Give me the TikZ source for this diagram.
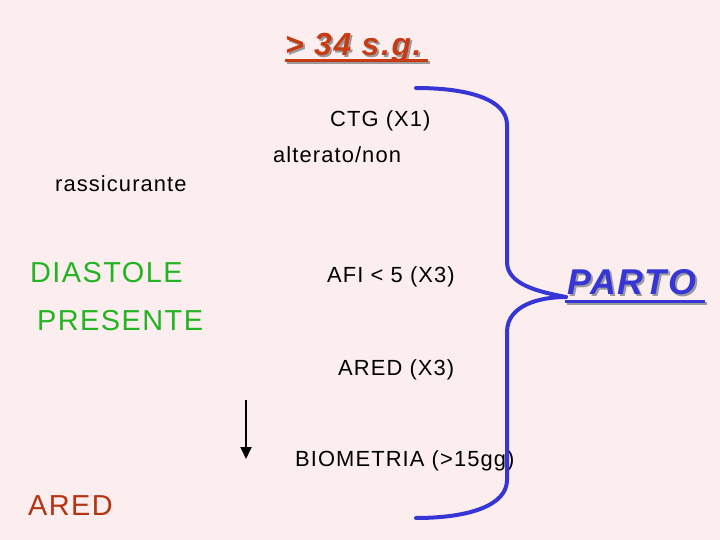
\documentclass[tikz,border=0pt]{standalone}
\usepackage{fontspec}
\setmainfont{Liberation Sans}[LetterSpace=5]
\usepackage{tikz}
\usetikzlibrary{arrows.meta,positioning}
\definecolor{sgbg}{HTML}{FCEEEE}
\definecolor{sgred}{HTML}{C83A12}
\definecolor{sgblue}{HTML}{3636D6}
\definecolor{sggreen}{HTML}{22B422}
\definecolor{sgshade}{HTML}{9A9A9A}

\begin{document}
\begin{tikzpicture}[x=1bp,y=-1bp,
  txt/.style={anchor=base west,inner sep=0pt,font=\fontsize{22}{24}\selectfont},
  big/.style={anchor=base west,inner sep=0pt,font=\fontsize{29}{32}\selectfont},
  head/.style={anchor=base west,inner sep=0pt,font=\fontsize{32}{36}\selectfont\bfseries\itshape},
  brace/.style={line width=4bp,sgblue,line cap=round},
  arr/.style={-{Triangle[length=12bp,width=11bp]},line width=2bp,black}]
  \fill[sgbg] (0,0) rectangle (720,540);
  \useasboundingbox (0,0) rectangle (720,540);
  % title with shadow
  \node[head,text=sgshade] at (287,58) {> 34 s.g.};
  \node[head,text=sgred] (title) at (285,56) {> 34 s.g.};
  \fill[sgshade] (287,61) rectangle (430,64);
  \fill[sgred] (285,59) rectangle (428,62);
  % checks
  \node[txt] (ctg) at (330,127) {CTG (X1)};
  \node[txt] (alt) at (273,163) {alterato/non};
  \node[txt] (rass) at (55,192) {rassicurante};
  \node[txt] (afi) at (327,283) {AFI < 5 (X3)};
  \node[txt] (aredx) at (338,375) {ARED (X3)};
  \node[txt] (bio) at (295,466) {BIOMETRIA (>15gg)};
  \node[big,text=sggreen] (diast) at (30,283) {DIASTOLE};
  \node[big,text=sggreen] (pres) at (37,330) {PRESENTE};
  \node[big,text=sgred!90!black] (ared) at (28,515) {ARED};
  % outcome
  \node[anchor=base west,inner sep=0pt,font=\fontsize{36}{40}\selectfont\bfseries\itshape,text=sgshade] at (569,296) {PARTO};
  \node[anchor=base west,inner sep=0pt,font=\fontsize{36}{40}\selectfont\bfseries\itshape,text=sgblue] (parto) at (567,294) {PARTO};
  \fill[sgshade] (567,302) rectangle (707,305);
  \fill[sgblue] (565,300) rectangle (705,303);
  % brace
  \coordinate (btop) at (416,88);
  \coordinate (bmid) at (566,297);
  \coordinate (bbot) at (416,518);
  \draw[brace] (btop) .. controls (470,88) and (507,100) .. (507,125)
    -- (507,262) .. controls (507,285) and (540,292) .. (bmid);
  \draw[brace] (bmid) .. controls (540,297) and (507,305) .. (507,332)
    -- (507,480) .. controls (507,505) and (470,518) .. (bbot);
  % arrow
  \coordinate (afrom) at (246,400);
  \coordinate (ato) at (246,459);
  \draw[arr] (afrom) -- (ato);
\end{tikzpicture}
\end{document}
